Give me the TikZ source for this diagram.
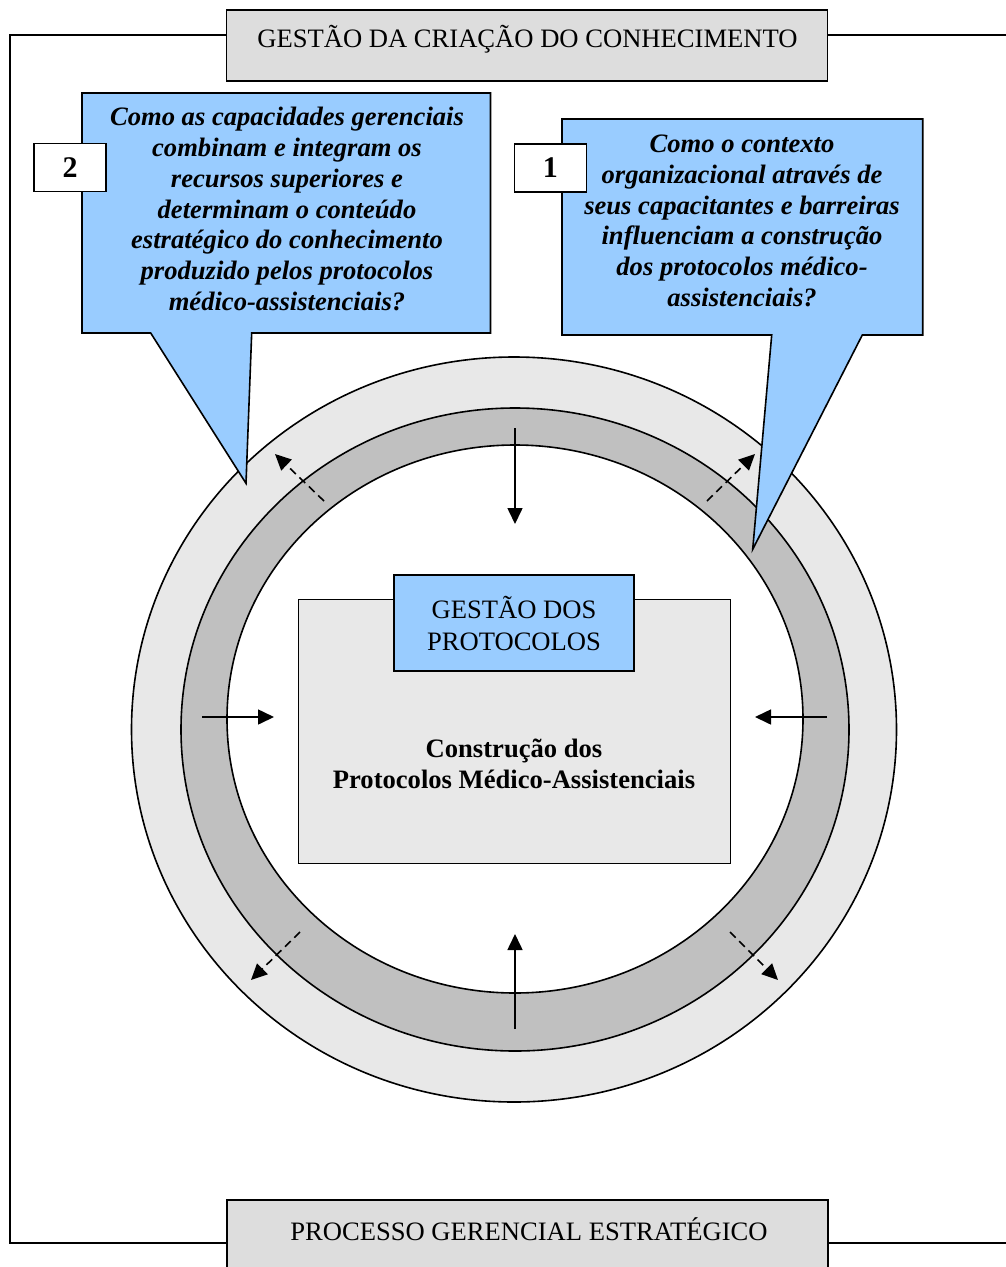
\documentclass[tikz,border=0pt]{standalone}
\usepackage{fontspec}
\setmainfont{Liberation Serif}
\usetikzlibrary{arrows.meta}

\definecolor{callblue}{HTML}{99CCFF}
\definecolor{titlegrey}{HTML}{DDDDDD}
\definecolor{ringlight}{HTML}{E8E8E8}
\definecolor{ringdark}{HTML}{C0C0C0}

\newcommand{\plainsize}{\fontsize{26.6}{32}\selectfont}
\newcommand{\callsize}{\fontsize{26.6}{30.7}\selectfont\bfseries\itshape}

\tikzset{
    greybox/.style={draw, fill=titlegrey, rectangle, inner sep=0pt},
    corebox/.style={draw, fill=ringlight, rectangle, inner sep=0pt},
    bluebox/.style={draw, fill=callblue, rectangle, inner sep=0pt, align=center, font=\plainsize},
    numbox/.style={draw, fill=white, rectangle, inner sep=0pt, font=\fontsize{30}{32}\selectfont\bfseries},
    plaintxt/.style={inner sep=0pt, font=\plainsize},
    boldtxt/.style={inner sep=0pt, align=center, font=\fontsize{26.6}{31}\selectfont\bfseries},
    calltxt/.style={inner sep=0pt, align=center, font=\callsize},
    flow/.style={-{Triangle[length=16pt,width=15pt]}},
    dflow/.style={flow, dash pattern=on 8pt off 5pt}
}

\begin{document}
\begin{tikzpicture}[x=1pt, y=-1pt, line width=1.6pt]
                \useasboundingbox (0,0) rectangle (1005,1267);

                % Frame
                \draw (1010,35) -- (10,35) -- (10,1243) -- (1010,1243);

                % Top and bottom boxes
                \node[greybox, minimum width=601, minimum height=71] (criacao) at (527,45.5) {};
                \node[plaintxt] (criacaotxt) at (527.5,39) {GESTÃO DA CRIAÇÃO DO CONHECIMENTO};
                \node[greybox, minimum width=601, minimum height=90, anchor=north west] (processo) at (226,1199) {};
                \node[plaintxt] (processotxt) at (529,1229) {PROCESSO GERENCIAL ESTRATÉGICO};

                % Rings
                \filldraw[fill=ringlight] (514,729.5) ellipse [x radius=382.5, y radius=372.5];
                \filldraw[fill=ringdark] (515,729.5) ellipse [x radius=334, y radius=321.5];
                \filldraw[fill=white] (515,719) ellipse [x radius=288, y radius=274];

                % Core boxes
                \node[corebox, minimum width=432, minimum height=264] (construcao) at (514.5,731.3) {};
                \node[boldtxt] (construcaotxt) at (514,763.5) {Construção dos\\Protocolos Médico-Assistenciais};
                \node[bluebox, minimum width=240, minimum height=96] (gestao) at (514,623) {GESTÃO DOS\\PROTOCOLOS};

                % Arrow ends
                \coordinate (topA) at (515,428);
                \coordinate (topB) at (515,524);
                \coordinate (botA) at (515,1029);
                \coordinate (botB) at (515,934);
                \coordinate (leftA) at (202,717);
                \coordinate (leftB) at (274,717);
                \coordinate (rightA) at (827,717);
                \coordinate (rightB) at (755,717);
                \coordinate (tlA) at (324,501);
                \coordinate (tlB) at (275,454);
                \coordinate (trA) at (707,501);
                \coordinate (trB) at (755,454);
                \coordinate (blA) at (300,932);
                \coordinate (blB) at (251,980);
                \coordinate (brA) at (730,932);
                \coordinate (brB) at (778,980);

                % Arrows
                \draw[flow] (topA) -- (topB);
                \draw[flow] (botA) -- (botB);
                \draw[flow] (leftA) -- (leftB);
                \draw[flow] (rightA) -- (rightB);
                \draw[dflow] (tlA) -- (tlB);
                \draw[dflow] (trA) -- (trB);
                \draw[dflow] (blA) -- (blB);
                \draw[dflow] (brA) -- (brB);

                % Callouts
                \filldraw[fill=callblue] (82,93) -- (490.5,93) -- (490.5,333) -- (251.7,333) -- (246,483.3)
                    -- (150.7,333) -- (82,333) -- cycle;
                \node[calltxt] (quest2) at (287,209) {Como as capacidades gerenciais\\combinam e integram os\\recursos superiores e\\determinam o conteúdo\\estratégico do conhecimento\\produzido pelos protocolos\\médico-assistenciais?};
                \node[numbox, minimum width=72, minimum height=48] (num2) at (70,167.5) {2};

                \filldraw[fill=callblue] (562,119) -- (922.7,119) -- (922.7,335) -- (862.3,335) -- (752.7,549.3)
                    -- (771.7,335) -- (562,335) -- cycle;
                \node[calltxt] (quest1) at (742,221) {Como o contexto\\organizacional através de\\seus capacitantes e barreiras\\influenciam a construção\\dos protocolos médico-\\assistenciais?};
                \node[numbox, minimum width=72, minimum height=48] (num1) at (550.3,167.8) {1};
\end{tikzpicture}
\end{document}
